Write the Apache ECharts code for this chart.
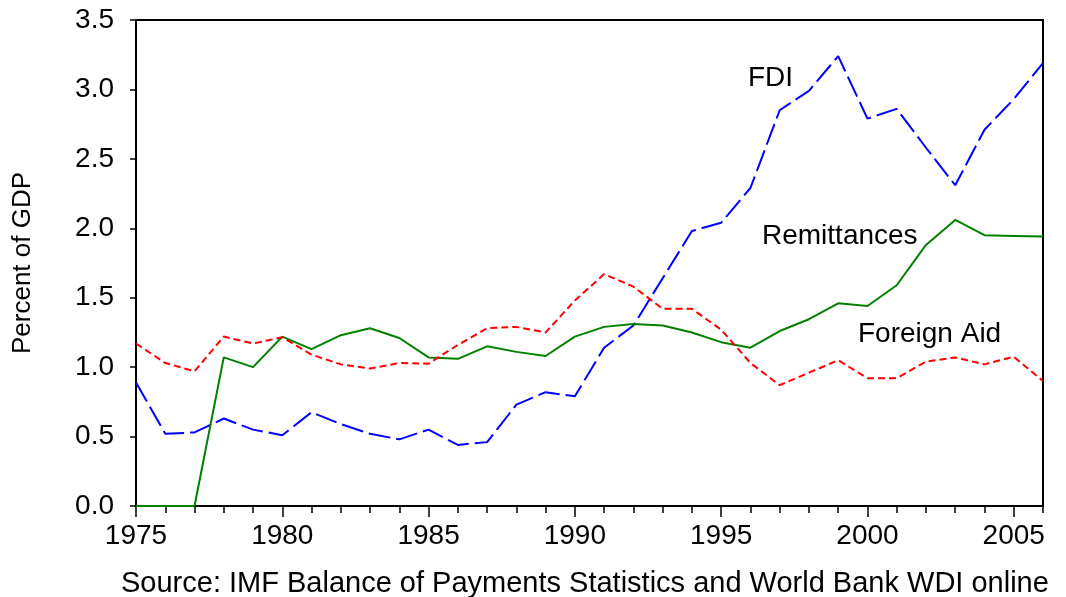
<!DOCTYPE html>
<html>
<head>
<meta charset="utf-8">
<script src="https://cdn.jsdelivr.net/npm/echarts@6/dist/echarts.min.js"></script>
<style>html,body{margin:0;padding:0;background:#fff}#c{width:1066px;height:597px}</style>
</head>
<body>
<div id="c"></div>
<script>
var years = [];
for (var y = 1975; y <= 2006; y++) years.push(String(y));

var fdi = [0.89,0.52,0.53,0.63,0.55,0.51,0.675,0.59,0.52,0.48,0.55,0.44,0.46,0.73,0.82,0.79,1.14,1.30,1.64,1.98,2.04,2.29,2.85,2.99,3.24,2.79,2.86,2.58,2.31,2.71,2.93,3.19];
var remittances = [0,0,0,1.07,1.00,1.22,1.13,1.23,1.28,1.21,1.07,1.06,1.15,1.11,1.08,1.22,1.29,1.31,1.30,1.25,1.18,1.14,1.26,1.345,1.46,1.44,1.59,1.88,2.06,1.95,1.945,1.94];
var foreignAid = [1.17,1.03,0.97,1.22,1.17,1.215,1.09,1.02,0.99,1.03,1.025,1.16,1.28,1.29,1.25,1.48,1.67,1.58,1.42,1.42,1.27,1.03,0.87,0.96,1.05,0.92,0.92,1.04,1.07,1.02,1.075,0.90];

var yTicks = ['0.0','0.5','1.0','1.5','2.0','2.5','3.0','3.5'];
var seriesNames = ['FDI','Remittances','Foreign Aid'];
var sourceText = 'Source: IMF Balance of Payments Statistics and World Bank WDI online';

var FONT = '"Liberation Sans", Arial, sans-serif';
var chart = echarts.init(document.getElementById('c'), null, {renderer: 'canvas'});
chart.setOption({
  backgroundColor: '#fff',
  animation: false,
  title: {
    text: sourceText,
    left: 121,
    top: 569,
    padding: 0,
    textStyle: {fontFamily: FONT, fontSize: 29, fontWeight: 'normal', color: '#000'}
  },
  grid: {left: 136, right: 23, top: 20, bottom: 91, show: true, borderColor: '#000', borderWidth: 2, backgroundColor: 'transparent'},
  xAxis: [{
    type: 'category',
    data: years,
    boundaryGap: false,
    position: 'bottom',
    axisLine: {lineStyle: {color: '#000', width: 2}},
    axisTick: {show: true, interval: 0, length: 7, lineStyle: {color: '#000', width: 1.5}},
    axisLabel: {show: false},
    splitLine: {show: false}
  }, {
    type: 'category',
    data: years,
    boundaryGap: false,
    position: 'bottom',
    axisLine: {show: false},
    axisTick: {show: true, interval: function (i) { return i % 5 === 0; }, length: 11, lineStyle: {color: '#000', width: 1.5}},
    axisLabel: {interval: function (i) { return i % 5 === 0; }, fontFamily: FONT, fontSize: 28, color: '#000', margin: 16},
    splitLine: {show: false}
  }],
  yAxis: {
    type: 'value',
    min: 0, max: 3.5, interval: 0.5,
    name: 'Percent of GDP',
    nameLocation: 'middle',
    nameRotate: 90,
    nameGap: 100,
    nameTextStyle: {fontFamily: FONT, fontSize: 26, color: '#000'},
    axisLine: {show: true, lineStyle: {color: '#000', width: 2}},
    axisTick: {show: true, length: 6, lineStyle: {color: '#000', width: 1.5}},
    axisLabel: {fontFamily: FONT, fontSize: 28, color: '#000', margin: 22,
      formatter: function (v) { return yTicks[Math.round(v / 0.5)]; }},
    splitLine: {show: false}
  },
  series: [{
    name: seriesNames[0], type: 'line', data: fdi, symbol: 'none',
    lineStyle: {color: '#0000ff', width: 2, type: [22, 6]}
  }, {
    name: seriesNames[1], type: 'line', data: remittances, symbol: 'none',
    lineStyle: {color: '#008000', width: 2, type: 'solid'}
  }, {
    name: seriesNames[2], type: 'line', data: foreignAid, symbol: 'none',
    lineStyle: {color: '#ff0000', width: 2, type: [7, 4]}
  }],
  graphic: [
    {type: 'text', left: 748, top: 64, style: {text: seriesNames[0], font: '28px ' + FONT, fill: '#000'}},
    {type: 'text', left: 762, top: 222, style: {text: seriesNames[1], font: '28px ' + FONT, fill: '#000'}},
    {type: 'text', left: 858, top: 320, style: {text: seriesNames[2], font: '28px ' + FONT, fill: '#000'}}
  ]
});
</script>
</body>
</html>
